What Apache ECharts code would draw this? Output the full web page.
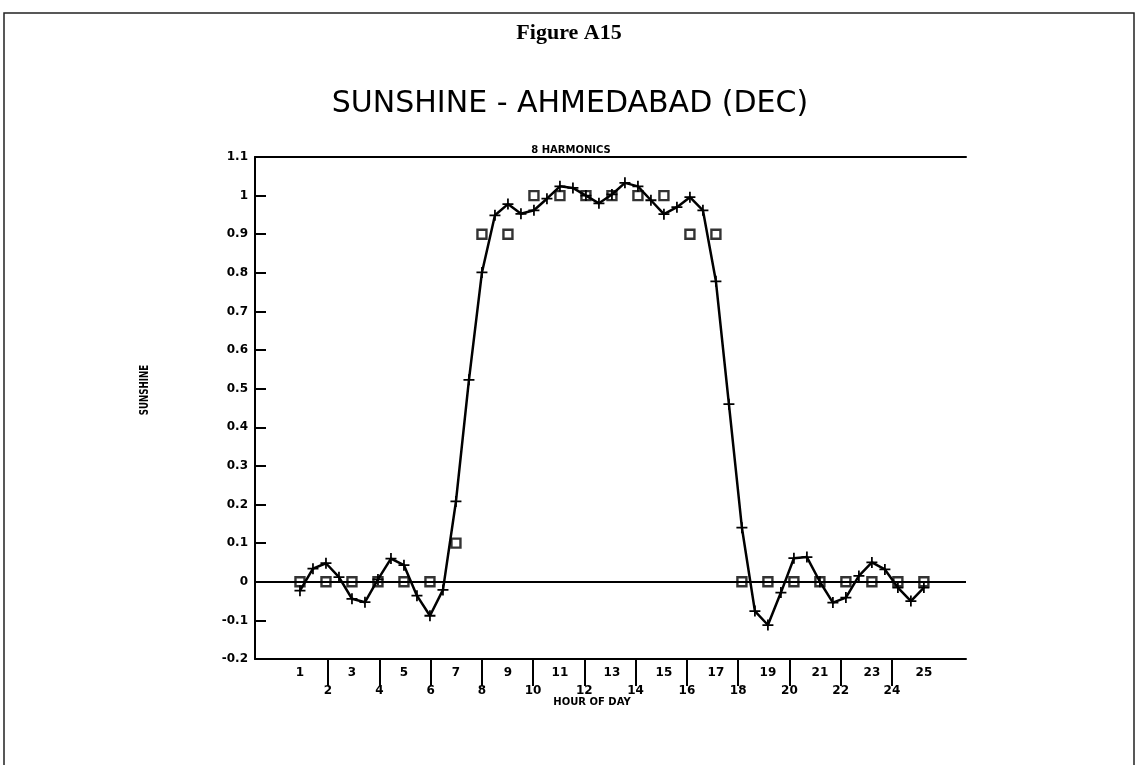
<!DOCTYPE html>
<html>
<head>
<meta charset="utf-8">
<script src="https://cdn.jsdelivr.net/npm/echarts@6/dist/echarts.min.js"></script>
<style>
  html, body { margin: 0; padding: 0; background: #fff; }
  #chart { width: 1138px; height: 765px; }
</style>
</head>
<body>
<div id="chart"></div>
<script>
// Hour of day for the fitted curve (half-hour steps)
const fitHours = [1, 1.5, 2, 2.5, 3, 3.5, 4, 4.5, 5, 5.5, 6, 6.5, 7, 7.5, 8, 8.5, 9, 9.5,
  10, 10.5, 11, 11.5, 12, 12.5, 13, 13.5, 14, 14.5, 15, 15.5, 16, 16.5, 17, 17.5,
  18, 18.5, 19, 19.5, 20, 20.5, 21, 21.5, 22, 22.5, 23, 23.5, 24, 24.5, 25];
// 8-harmonic fit of sunshine
const fitValues = [-0.023, 0.034, 0.048, 0.012, -0.044, -0.053, 0.006, 0.060, 0.043, -0.036,
  -0.088, -0.021, 0.208, 0.523, 0.801, 0.949, 0.978, 0.953, 0.962, 0.992, 1.024, 1.020,
  1.000, 0.980, 1.003, 1.033, 1.024, 0.988, 0.952, 0.970, 0.996, 0.962, 0.778, 0.460,
  0.140, -0.076, -0.112, -0.028, 0.061, 0.064, 0.000, -0.054, -0.041, 0.015, 0.050,
  0.032, -0.015, -0.050, -0.015];
// Observed hourly sunshine
const obsHours = [1, 2, 3, 4, 5, 6, 7, 8, 9, 10, 11, 12, 13, 14, 15, 16, 17, 18, 19, 20, 21, 22, 23, 24, 25];
const obsValues = [0, 0, 0, 0, 0, 0, 0.1, 0.9, 0.9, 1, 1, 1, 1, 1, 1, 0.9, 0.9, 0, 0, 0, 0, 0, 0, 0, 0];
// Axis labelling
const oddTickLabels = [1, 3, 5, 7, 9, 11, 13, 15, 17, 19, 21, 23, 25];
const evenTickLabels = [2, 4, 6, 8, 10, 12, 14, 16, 18, 20, 22, 24];

const figureTitle = 'Figure A15';
const chartTitle = 'SUNSHINE - AHMEDABAD (DEC)';
const legendText = '8 HARMONICS';
const xName = 'HOUR OF DAY';
const yName = 'SUNSHINE';

const chart = echarts.init(document.getElementById('chart'), null, { renderer: 'canvas' });

const labelFont = { color: '#000', fontFamily: 'DejaVu Sans', fontWeight: 'bold', fontSize: 12 };
const plusPath = 'path://M0,4.2H10V5.8H0Z M4.2,0H5.8V10H4.2Z';

const option = {
  backgroundColor: '#fff',
  animation: false,
  grid: { left: 255, right: 172, top: 157, bottom: 106, containLabel: false },
  xAxis: [
    {
      type: 'value', position: 'bottom', min: -0.73, max: 26.62,
      splitLine: { show: false },
      axisLine: { show: true, onZero: false, lineStyle: { color: '#000', width: 2 } },
      axisTick: { show: false },
      axisLabel: Object.assign({ customValues: oddTickLabels, margin: 8 }, labelFont)
    },
    {
      type: 'value', position: 'bottom', min: -0.85, max: 26.89,
      splitLine: { show: false },
      axisLine: { show: false, onZero: false },
      axisTick: { show: true, customValues: evenTickLabels, length: 27, lineStyle: { color: '#000', width: 2 } },
      axisLabel: Object.assign({ customValues: evenTickLabels, margin: 26 }, labelFont)
    },
    {
      type: 'value', position: 'top', min: -0.73, max: 26.62,
      splitLine: { show: false },
      axisLine: { show: true, onZero: false, lineStyle: { color: '#000', width: 2 } },
      axisTick: { show: false },
      axisLabel: { show: false }
    }
  ],
  yAxis: {
    type: 'value', min: -0.2, max: 1.1, interval: 0.1,
    splitLine: { show: false },
    axisLine: { show: true, onZero: false, lineStyle: { color: '#000', width: 2 } },
    axisTick: { show: true, inside: true, length: 11, lineStyle: { color: '#000', width: 2 } },
    axisLabel: Object.assign({ margin: 7, formatter: v => String(+v.toFixed(1)) }, labelFont)
  },
  series: [
    {
      type: 'scatter',
      xAxisIndex: 0,
      data: obsHours.map((h, i) => [h, obsValues[i]]),
      symbol: 'rect',
      symbolSize: 9,
      itemStyle: { color: 'rgba(0,0,0,0)', borderColor: '#000', borderWidth: 2.4 },
      z: 3,
      markLine: {
        silent: true,
        symbol: ['none', 'none'],
        label: { show: false },
        lineStyle: { color: '#000', width: 2, type: 'solid' },
        data: [{ yAxis: 0 }]
      }
    },
    {
      type: 'line',
      xAxisIndex: 0,
      data: fitHours.map((h, i) => [h, fitValues[i]]),
      symbol: plusPath,
      symbolSize: 11,
      showAllSymbol: true,
      lineStyle: { color: '#000', width: 2.5 },
      itemStyle: { color: '#000' },
      z: 4
    }
  ],
  graphic: [
    {
      type: 'polyline', silent: true,
      shape: { points: [[4, 765], [4, 13], [1134, 13], [1134, 765]] },
      style: { stroke: '#222', lineWidth: 1.5, fill: null }
    },
    {
      type: 'text', x: 569, y: 33,
      style: { text: figureTitle, align: 'center', verticalAlign: 'middle',
        font: 'bold 22px "Liberation Serif"', fill: '#000' }
    },
    {
      type: 'text', x: 570, y: 104,
      style: { text: chartTitle, align: 'center', verticalAlign: 'middle',
        font: '30px "DejaVu Sans"', fill: '#000' }
    },
    {
      type: 'text', x: 571, y: 150,
      style: { text: legendText, align: 'center', verticalAlign: 'middle',
        font: 'bold 10px "DejaVu Sans"', fill: '#000' }
    },
    {
      type: 'text', x: 145, y: 390, rotation: Math.PI / 2, scaleX: 0.72,
      style: { text: yName, align: 'center', verticalAlign: 'middle',
        font: 'bold 12px "DejaVu Sans"', fill: '#000' }
    },
    {
      type: 'text', x: 592, y: 702,
      style: { text: xName, align: 'center', verticalAlign: 'middle',
        font: 'bold 10px "DejaVu Sans"', fill: '#000' }
    }
  ]
};

chart.setOption(option);
</script>
</body>
</html>
